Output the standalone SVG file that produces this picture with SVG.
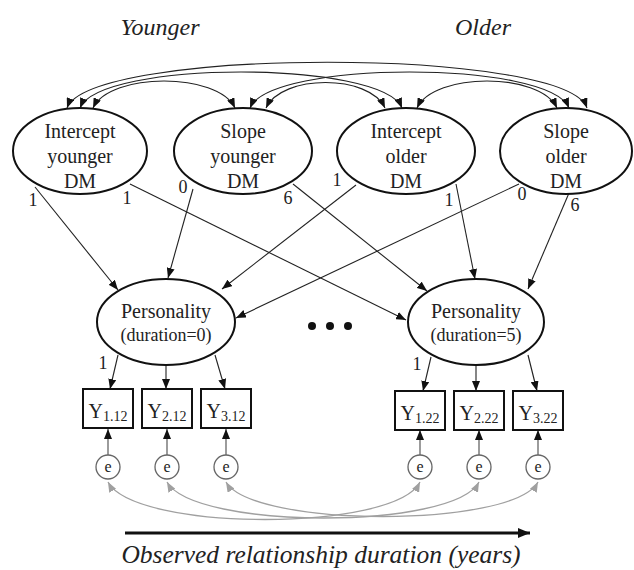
<svg xmlns="http://www.w3.org/2000/svg" width="634" height="570" viewBox="0 0 634 570">
<defs>
<marker id="ah" viewBox="0 0 10 8" refX="10" refY="4" markerWidth="10" markerHeight="8" markerUnits="userSpaceOnUse" orient="auto-start-reverse"><path d="M0,0 L10,4 L0,8 z" fill="#111"/></marker>
<marker id="ahg" viewBox="0 0 10 8" refX="10" refY="4" markerWidth="10" markerHeight="8" markerUnits="userSpaceOnUse" orient="auto-start-reverse"><path d="M0,0 L10,4 L0,8 z" fill="#a0a0a0"/></marker>
<marker id="ahb" viewBox="0 0 12 10" refX="12" refY="5" markerWidth="12" markerHeight="10" markerUnits="userSpaceOnUse" orient="auto"><path d="M0,0 L12,5 L0,10 z" fill="#111"/></marker>
<style>
.t{font-family:"Liberation Serif","Times New Roman",serif;fill:#222;text-anchor:middle}
.it{font-family:"Liberation Serif","Times New Roman",serif;font-style:italic;fill:#222;text-anchor:middle}
.lat{fill:#fff;stroke:#111;stroke-width:2}
.box{fill:#fff;stroke:#111;stroke-width:2}
.err{fill:#fff;stroke:#666;stroke-width:1.3}
.a{fill:none;stroke:#222;stroke-width:1.1;marker-end:url(#ah)}
.cov{fill:none;stroke:#222;stroke-width:1.1;marker-start:url(#ah);marker-end:url(#ah)}
.ecov{fill:none;stroke:#a0a0a0;stroke-width:1.3;marker-start:url(#ahg);marker-end:url(#ahg)}
.ea{fill:none;stroke:#666;stroke-width:1.3;marker-end:url(#ah)}
.n{font-size:18px}
</style>
</defs>

<text class="it" x="160" y="35" font-size="24">Younger</text>
<text class="it" x="483" y="35" font-size="24">Older</text>

<g id="connectors">
<path class="cov" d="M67 108 C90 47 565 47 587 108"/>
<path class="cov" d="M80 108 C100 60 382 60 402 108"/>
<path class="cov" d="M250 108 C270 60 549 60 569 108"/>
<path class="cov" d="M93 108 C110 72 218 72 235 108"/>
<path class="cov" d="M266 108 C282 74 369 74 385 108"/>
<path class="cov" d="M417 108 C434 72 540 72 557 108"/>

<line class="a" x1="35" y1="187" x2="118" y2="290"/>
<line class="a" x1="193" y1="189" x2="168" y2="278"/>
<line class="a" x1="356" y1="185" x2="222" y2="289"/>
<line class="a" x1="519" y1="184" x2="236" y2="318"/>
<line class="a" x1="130" y1="184" x2="406" y2="320"/>
<line class="a" x1="293" y1="184" x2="427" y2="291"/>
<line class="a" x1="456" y1="184" x2="475" y2="279"/>
<line class="a" x1="569" y1="193" x2="528" y2="289"/>

<line class="a" x1="118" y1="355" x2="110" y2="389"/>
<line class="a" x1="166" y1="365" x2="166" y2="389"/>
<line class="a" x1="215" y1="355" x2="225" y2="389"/>
<line class="a" x1="431" y1="357" x2="423" y2="391"/>
<line class="a" x1="476" y1="366" x2="476" y2="391"/>
<line class="a" x1="528" y1="355" x2="537" y2="391"/>

<line class="ea" x1="108" y1="455" x2="108" y2="429"/>
<line class="ea" x1="167" y1="455" x2="167" y2="429"/>
<line class="ea" x1="226" y1="455" x2="226" y2="429"/>
<line class="ea" x1="420" y1="455" x2="420" y2="430"/>
<line class="ea" x1="479" y1="455" x2="479" y2="430"/>
<line class="ea" x1="538" y1="455" x2="538" y2="430"/>

<path class="ecov" d="M108 482 C135 532 395 532 420 482"/>
<path class="ecov" d="M167 482 C194 530 454 530 479 482"/>
<path class="ecov" d="M226 482 C253 528 513 528 538 482"/>

<line x1="125" y1="533" x2="530" y2="533" stroke="#111" stroke-width="3" marker-end="url(#ahb)"/>
</g>

<g class="t n">
<text x="33" y="206">1</text>
<text x="127" y="204">1</text>
<text x="183" y="193">0</text>
<text x="288" y="204">6</text>
<text x="337" y="186">1</text>
<text x="449" y="206">1</text>
<text x="522" y="200">0</text>
<text x="575" y="211">6</text>
<text x="103" y="369">1</text>
<text x="417" y="370">1</text>
</g>

<g id="intercept-younger"><ellipse class="lat" cx="80" cy="151" rx="67" ry="43"/>
<text class="t" font-size="20" x="80" y="138">Intercept</text><text class="t" font-size="20" x="80" y="163">younger</text><text class="t" font-size="20" x="80" y="188">DM</text></g>
<g id="slope-younger"><ellipse class="lat" cx="243" cy="151" rx="69" ry="43"/>
<text class="t" font-size="20" x="243" y="138">Slope</text><text class="t" font-size="20" x="243" y="163">younger</text><text class="t" font-size="20" x="243" y="188">DM</text></g>
<g id="intercept-older"><ellipse class="lat" cx="406" cy="151" rx="69" ry="43"/>
<text class="t" font-size="20" x="406" y="138">Intercept</text><text class="t" font-size="20" x="406" y="163">older</text><text class="t" font-size="20" x="406" y="188">DM</text></g>
<g id="slope-older"><ellipse class="lat" cx="566" cy="151" rx="66" ry="43"/>
<text class="t" font-size="20" x="566" y="138">Slope</text><text class="t" font-size="20" x="566" y="163">older</text><text class="t" font-size="20" x="566" y="188">DM</text></g>

<g id="personality-0"><ellipse class="lat" cx="166" cy="322" rx="69" ry="43"/>
<text class="t" font-size="20" x="166" y="318">Personality</text><text class="t" font-size="18" x="166" y="341">(duration=0)</text></g>
<g id="personality-5"><ellipse class="lat" cx="476" cy="322" rx="68" ry="43"/>
<text class="t" font-size="20" x="476" y="318">Personality</text><text class="t" font-size="18" x="476" y="341">(duration=5)</text></g>

<g id="dots" fill="#111"><circle cx="312" cy="326" r="4"/><circle cx="330" cy="326" r="4"/><circle cx="348" cy="326" r="4"/></g>

<g id="y112"><rect class="box" x="83" y="389" width="50" height="39"/><text class="t" x="108" y="418" font-size="20">Y<tspan font-size="14" dy="3">1.12</tspan></text></g>
<g id="y212"><rect class="box" x="142" y="389" width="50" height="39"/><text class="t" x="167" y="418" font-size="20">Y<tspan font-size="14" dy="3">2.12</tspan></text></g>
<g id="y312"><rect class="box" x="201" y="389" width="50" height="39"/><text class="t" x="226" y="418" font-size="20">Y<tspan font-size="14" dy="3">3.12</tspan></text></g>
<g id="y122"><rect class="box" x="395" y="391" width="50" height="39"/><text class="t" x="420" y="420" font-size="20">Y<tspan font-size="14" dy="3">1.22</tspan></text></g>
<g id="y222"><rect class="box" x="454" y="391" width="50" height="39"/><text class="t" x="479" y="420" font-size="20">Y<tspan font-size="14" dy="3">2.22</tspan></text></g>
<g id="y322"><rect class="box" x="513" y="391" width="50" height="39"/><text class="t" x="538" y="420" font-size="20">Y<tspan font-size="14" dy="3">3.22</tspan></text></g>

<g id="e1"><circle class="err" cx="108" cy="467" r="12"/><text class="t" x="108" y="472" font-size="16">e</text></g>
<g id="e2"><circle class="err" cx="167" cy="467" r="12"/><text class="t" x="167" y="472" font-size="16">e</text></g>
<g id="e3"><circle class="err" cx="226" cy="467" r="12"/><text class="t" x="226" y="472" font-size="16">e</text></g>
<g id="e4"><circle class="err" cx="420" cy="467" r="12"/><text class="t" x="420" y="472" font-size="16">e</text></g>
<g id="e5"><circle class="err" cx="479" cy="467" r="12"/><text class="t" x="479" y="472" font-size="16">e</text></g>
<g id="e6"><circle class="err" cx="538" cy="467" r="12"/><text class="t" x="538" y="472" font-size="16">e</text></g>

<text class="it" x="321" y="563" font-size="25.5">Observed relationship duration (years)</text>
</svg>
